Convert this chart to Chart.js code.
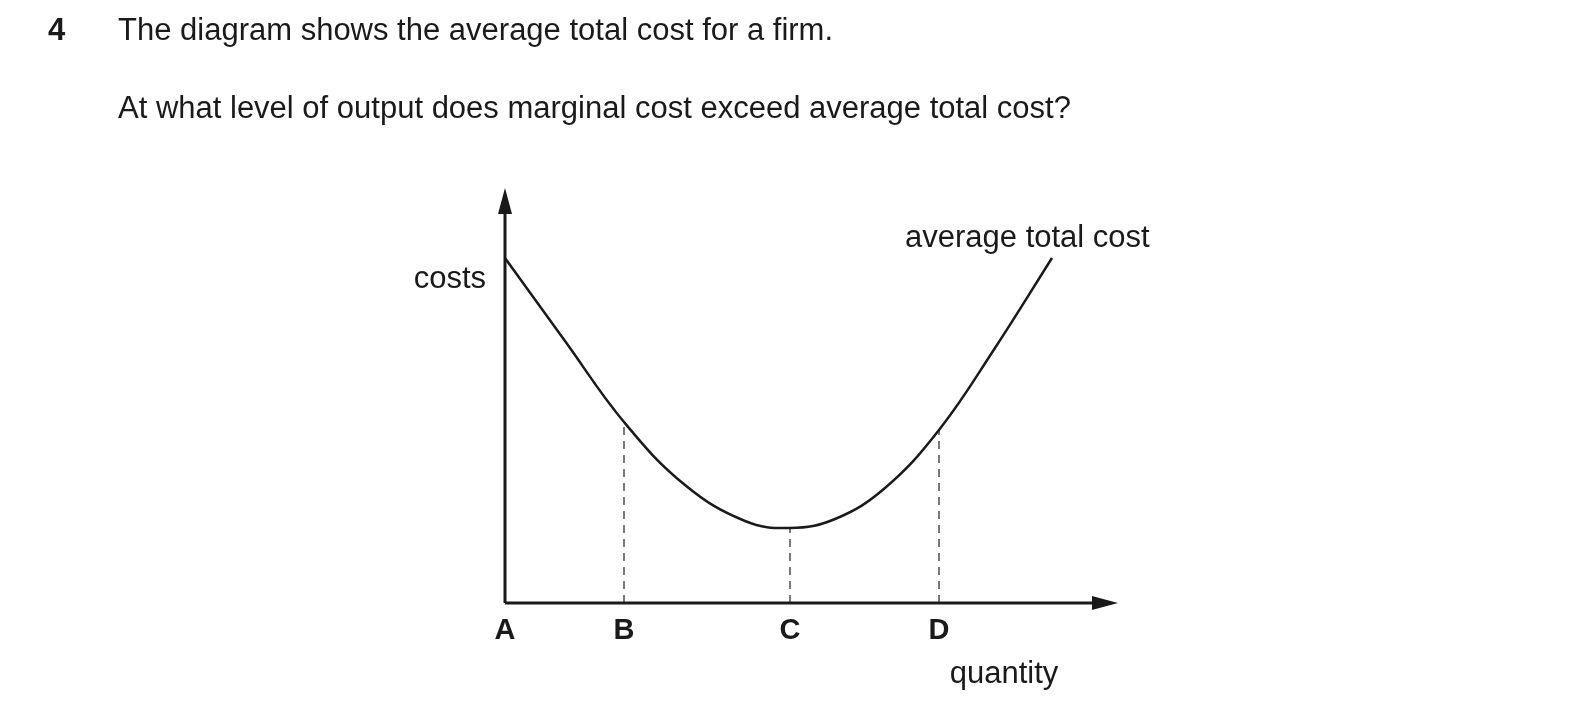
<!DOCTYPE html>
<html>
<head>
<meta charset="utf-8">
<script src="https://cdn.jsdelivr.net/npm/chart.js@4/dist/chart.umd.min.js"></script>
<style>
  body { margin: 0; background: #fff; font-family: "Liberation Sans", Arial, sans-serif; }
  #wrap { position: relative; width: 1590px; height: 719px; }
  .t { position: absolute; font-size: 31px; color: #1a1a1a; white-space: nowrap; }
</style>
</head>
<body>
<div id="wrap">
  <div class="t" style="left:48px;top:12px;font-weight:bold;">4</div>
  <div class="t" style="left:118px;top:12px;">The diagram shows the average total cost for a firm.</div>
  <div class="t" style="left:118px;top:90px;">At what level of output does marginal cost exceed average total cost?</div>
  <canvas id="c" width="1590" height="719"></canvas>
</div>
<script>
// curve (quantity, cost)
const curveX = [0, 60, 119, 180, 240, 285, 330, 380, 434, 490, 547];
const curveY = [345, 262, 181, 118, 82, 75, 84, 115, 173, 255, 345];
const pointLabels = ['A', 'B', 'C', 'D'];
const pointX = [0, 119, 285, 434];
const pointY = [345, 181, 75, 173];

const curve = curveX.map((x, i) => ({ x: x, y: curveY[i] }));
const dashSets = pointX.slice(1).map((x, i) => ({
    data: [{ x: x, y: 0 }, { x: x, y: pointY[i + 1] }],
    borderColor: '#222', borderWidth: 1.2, borderDash: [8, 6], pointRadius: 0
}));

const axesPlugin = {
    id: 'axes',
    afterDatasetsDraw(chart) {
        const ctx = chart.ctx, xs = chart.scales.x, ys = chart.scales.y;
        const x0 = xs.getPixelForValue(0), y0 = ys.getPixelForValue(0);
        const xEnd = xs.right, yTop = ys.top;
        ctx.save();
        ctx.strokeStyle = '#1a1a1a'; ctx.fillStyle = '#1a1a1a'; ctx.lineWidth = 3;
        ctx.beginPath();
        ctx.moveTo(x0, y0); ctx.lineTo(x0, yTop + 20);
        ctx.moveTo(x0, y0); ctx.lineTo(xEnd - 20, y0);
        ctx.stroke();
        ctx.beginPath();
        ctx.moveTo(x0, yTop); ctx.lineTo(x0 - 7, yTop + 26); ctx.lineTo(x0 + 7, yTop + 26); ctx.fill();
        ctx.beginPath();
        ctx.moveTo(xEnd, y0); ctx.lineTo(xEnd - 26, y0 - 7); ctx.lineTo(xEnd - 26, y0 + 7); ctx.fill();
        ctx.font = 'bold 29px "Liberation Sans", Arial, sans-serif';
        ctx.textAlign = 'center'; ctx.textBaseline = 'top';
        pointLabels.forEach((l, i) => ctx.fillText(l, xs.getPixelForValue(pointX[i]), y0 + 13));
        ctx.font = '31px "Liberation Sans", Arial, sans-serif';
        ctx.fillText('quantity', 1004, 659);
        ctx.textAlign = 'right';
        ctx.fillText('costs', 486, 264);
        ctx.textAlign = 'left';
        ctx.fillText('average total cost', 905, 223);
        ctx.restore();
    }
};

new Chart(document.getElementById('c'), {
    type: 'line',
    data: {
        datasets: [{
            data: curve, borderColor: '#1a1a1a', borderWidth: 2.5, pointRadius: 0,
            tension: 0.4
        }].concat(dashSets)
    },
    options: {
        responsive: false, animation: false,
        layout: { padding: { left: 505, right: 472, top: 188, bottom: 116 } },
        plugins: { legend: { display: false }, tooltip: { enabled: false } },
        scales: {
            x: { type: 'linear', min: 0, max: 613, display: false },
            y: { min: 0, max: 415, display: false }
        }
    },
    plugins: [axesPlugin]
});
</script>
</body>
</html>
